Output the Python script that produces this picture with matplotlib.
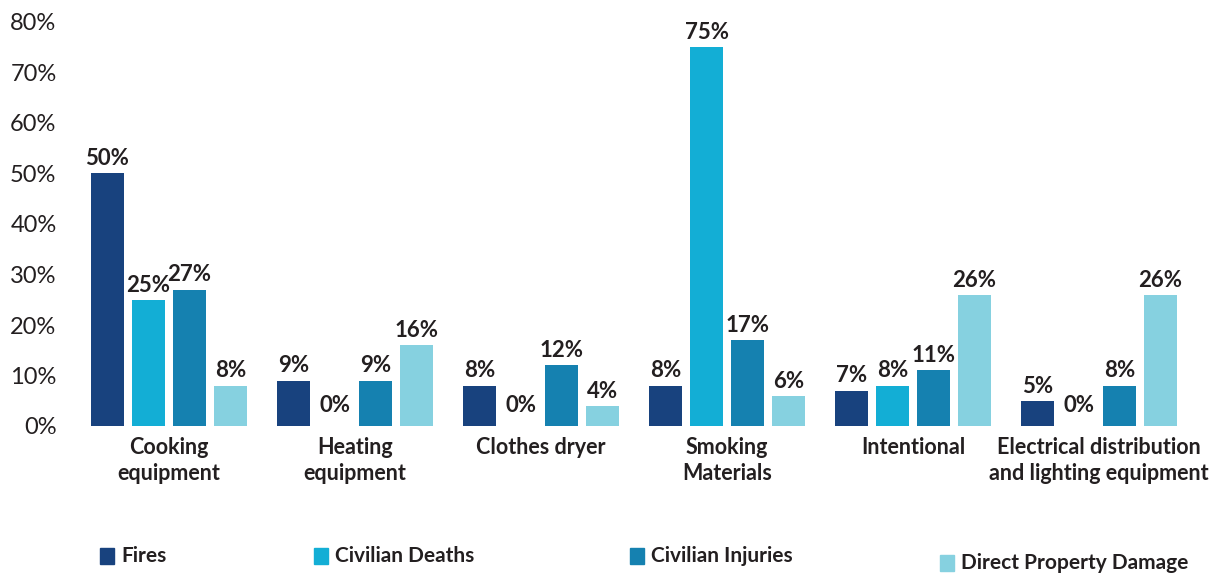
import numpy as np
import matplotlib
matplotlib.use("Agg")
import matplotlib.pyplot as plt
from matplotlib.patches import Rectangle

categories = ["Cooking\nequipment", "Heating\nequipment", "Clothes dryer",
              "Smoking\nMaterials", "Intentional",
              "Electrical distribution\nand lighting equipment"]
series_names = ["Fires", "Civilian Deaths", "Civilian Injuries", "Direct Property Damage"]
fires = [50, 9, 8, 8, 7, 5]
deaths = [25, 0, 0, 75, 8, 0]
injuries = [27, 9, 12, 17, 11, 8]
damage = [8, 16, 4, 6, 26, 26]
colors = ["#18427e", "#13aed5", "#1581b0", "#86d1e0"]

plt.rcParams['font.family'] = ['Lato', 'DejaVu Sans']
text_col = "#231f20"

W, H = 1220, 574
fig = plt.figure(figsize=(W / 100, H / 100), dpi=100)
# axes placed in pixel terms: x from 76 to 1192, y from 22 (80%) to 426 (0%)
ax = fig.add_axes([76 / W, (H - 426) / H, 1116 / W, 404 / H])

x = np.arange(len(categories))
bw = 33 / 186
step = 41 / 186
all_series = [fires, deaths, injuries, damage]
for i, (vals, c) in enumerate(zip(all_series, colors)):
    pos = x + (i - 1.5) * step
    ax.bar(pos, vals, width=bw, color=c, label=series_names[i])
    for px, v in zip(pos, vals):
        ax.annotate(f"{v}%", (px, v), xytext=(0, 3 if v else 7), textcoords="offset points",
                    ha="center", va="bottom", fontsize=16, fontweight="bold", color=text_col)

ax.set_xlim(-0.5, len(categories) - 0.5)
ax.set_ylim(0, 80)
ax.set_yticks(range(0, 81, 10))
ax.set_yticklabels([f"{t}%" for t in range(0, 81, 10)], fontsize=17, color=text_col)
ax.set_xticks(x)
ax.set_xticklabels(categories, fontsize=15.5, fontweight="bold", color=text_col, linespacing=1.3)
ax.tick_params(axis="y", length=0, pad=14)
ax.tick_params(axis="x", length=0, pad=8)
for s in ax.spines.values():
    s.set_visible(False)

# legend, laid out like the original (items spread across the bottom)
leg_pos = [(100, 556), (314, 556), (630, 556), (940, 563)]
for (lx, ly), name, c in zip(leg_pos, series_names, colors):
    fig.patches.append(Rectangle((lx / W, (H - ly - 8) / H), 14 / W, 16 / H,
                                 transform=fig.transFigure, color=c))
    fig.text((lx + 21) / W, (H - ly) / H, name, fontsize=15, fontweight="bold",
             color=text_col, va="center", ha="left")

fig.savefig("out.png", dpi=100)
